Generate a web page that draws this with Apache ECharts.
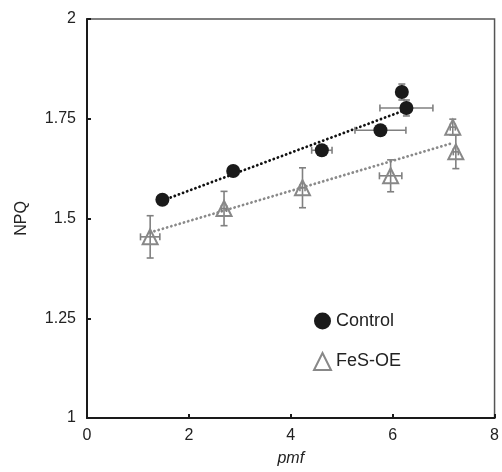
<!DOCTYPE html>
<html>
<head>
<meta charset="utf-8">
<script src="https://cdn.jsdelivr.net/npm/echarts@6/dist/echarts.min.js"></script>
<style>html,body{margin:0;padding:0;background:#fff}#c{width:502px;height:472px}</style>
</head>
<body>
<div id="c"></div>
<script>
// Control
var controlX    = [1.48, 2.87, 4.61, 5.76, 6.18, 6.27];
var controlY    = [1.547, 1.619, 1.671, 1.721, 1.817, 1.777];
var controlXErr = [0.10, 0.05, 0.20, 0.50, 0.05, 0.52];
var controlYErr = [0.01, 0.01, 0.01, 0.01, 0.02, 0.02];
// FeS-OE
var fesX    = [1.24, 2.69, 4.23, 5.96, 7.18, 7.24];
var fesY    = [1.454, 1.525, 1.577, 1.607, 1.729, 1.667];
var fesXErr = [0.19, 0.05, 0.05, 0.22, 0.05, 0.05];
var fesYErr = [0.053, 0.043, 0.05, 0.04, 0.02, 0.042];
// trend lines (endpoints)
var controlTrendX = [1.48, 6.25];
var controlTrendY = [1.545, 1.772];
var fesTrendX = [1.24, 7.2];
var fesTrendY = [1.465, 1.69];
// axes
var xTicks = [0, 2, 4, 6, 8];
var yTicks = [1, 1.25, 1.5, 1.75, 2];

function zip(a, b, c, d) { return a.map(function (v, i) { return c ? [v, b[i], c[i], d[i]] : [v, b[i]]; }); }

var errColor = '#808080';
function errRender(params, api) {
  var x = api.value(0), y = api.value(1), ex = api.value(2), ey = api.value(3);
  var cap = 3.5;
  var l = api.coord([x - ex, y]), r = api.coord([x + ex, y]);
  var t = api.coord([x, y + ey]), b = api.coord([x, y - ey]);
  var st = { stroke: errColor, lineWidth: 1.6 };
  var ch = [];
  ch.push({ type: 'line', shape: { x1: l[0], y1: l[1], x2: r[0], y2: r[1] }, style: st });
  ch.push({ type: 'line', shape: { x1: l[0], y1: l[1] - cap, x2: l[0], y2: l[1] + cap }, style: st });
  ch.push({ type: 'line', shape: { x1: r[0], y1: r[1] - cap, x2: r[0], y2: r[1] + cap }, style: st });
  ch.push({ type: 'line', shape: { x1: t[0], y1: t[1], x2: b[0], y2: b[1] }, style: st });
  ch.push({ type: 'line', shape: { x1: t[0] - cap, y1: t[1], x2: t[0] + cap, y2: t[1] }, style: st });
  ch.push({ type: 'line', shape: { x1: b[0] - cap, y1: b[1], x2: b[0] + cap, y2: b[1] }, style: st });
  return { type: 'group', children: ch };
}

var font = 'Liberation Sans, Arial, sans-serif';
var chart = echarts.init(document.getElementById('c'));
chart.setOption({
  animation: false,
  backgroundColor: '#fff',
  grid: { left: 87, top: 19, right: 7, bottom: 52, show: true, borderColor: '#555', borderWidth: 1.5 },
  xAxis: {
    type: 'value', min: xTicks[0], max: xTicks[xTicks.length - 1], interval: 2,
    name: 'pmf', nameLocation: 'middle', nameGap: 33,
    nameTextStyle: { fontFamily: font, fontSize: 16, fontStyle: 'italic', color: '#222' },
    axisLine: { show: true, onZero: false, lineStyle: { color: '#1a1a1a', width: 2 } },
    axisTick: { show: true, inside: true, length: 4, lineStyle: { color: '#1a1a1a', width: 2 } },
    axisLabel: { fontFamily: font, fontSize: 16, color: '#222', margin: 10 },
    splitLine: { show: false }
  },
  yAxis: {
    type: 'value', min: yTicks[0], max: yTicks[yTicks.length - 1], interval: 0.25,
    name: 'NPQ', nameLocation: 'middle', nameGap: 57,
    nameTextStyle: { fontFamily: font, fontSize: 16, color: '#222' },
    axisLine: { show: true, onZero: false, lineStyle: { color: '#1a1a1a', width: 2 } },
    axisTick: { show: true, inside: true, length: 4, lineStyle: { color: '#1a1a1a', width: 2 } },
    axisLabel: { fontFamily: font, fontSize: 16, color: '#222', margin: 11 },
    splitLine: { show: false }
  },
  legend: {
    data: ['Control', 'FeS-OE'], orient: 'vertical', left: 308, top: 307,
    itemWidth: 17, itemHeight: 17, itemGap: 22,
    textStyle: { fontFamily: font, fontSize: 18, color: '#222' }
  },
  series: [
    { type: 'line', data: zip(fesTrendX, fesTrendY), symbol: 'none', silent: true, z: 1,
      lineStyle: { color: '#8a8a8a', width: 2.8, type: [0.1, 4.3], cap: 'round' } },
    { type: 'line', data: zip(controlTrendX, controlTrendY), symbol: 'none', silent: true, z: 1,
      lineStyle: { color: '#111', width: 2.8, type: [0.1, 4.3], cap: 'round' } },
    { type: 'custom', renderItem: errRender, data: zip(fesX, fesY, fesXErr, fesYErr), z: 2 },
    { type: 'custom', renderItem: errRender, data: zip(controlX, controlY, controlXErr, controlYErr), z: 2 },
    { name: 'FeS-OE', type: 'scatter', data: zip(fesX, fesY), symbol: 'triangle', symbolSize: 15, z: 3,
      itemStyle: { color: 'rgba(255,255,255,0)', borderColor: '#888', borderWidth: 2, opacity: 1 } },
    { name: 'Control', type: 'scatter', data: zip(controlX, controlY), symbol: 'circle', symbolSize: 14, z: 4,
      itemStyle: { color: '#1a1a1a', opacity: 1 } }
  ]
});
</script>
</body>
</html>
